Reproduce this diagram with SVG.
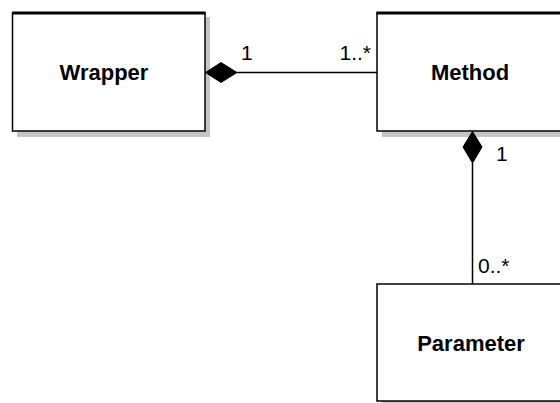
<svg xmlns="http://www.w3.org/2000/svg" width="560" height="403" viewBox="0 0 560 403">
<style>
.shadow{fill:#c4c4c4;}
.box{fill:#fff;stroke:#000;stroke-width:1.5;}
.top{stroke:#000;stroke-width:3;}
.name{font-family:"Liberation Sans",Arial,sans-serif;font-weight:bold;font-size:22px;text-anchor:middle;fill:#000;}
.mult{font-family:"Liberation Sans",Arial,sans-serif;font-size:21px;fill:#000;}
.conn{stroke:#000;stroke-width:1.5;fill:none;}
.dia{fill:#000;stroke:#000;stroke-width:1;}
</style>
<rect width="560" height="403" fill="#fff"/>
<g id="wrapper">
<rect class="shadow" x="17" y="17" width="193" height="120"/>
<rect class="box" x="12.5" y="13" width="192.5" height="118"/>
<line class="top" x1="12" y1="13" x2="205.5" y2="13"/>
<text class="name" x="104" y="80">Wrapper</text>
</g>
<g id="method">
<rect class="shadow" x="382" y="17" width="190" height="120"/>
<rect class="box" x="377" y="13" width="200" height="118"/>
<line class="top" x1="376.5" y1="13" x2="578" y2="13"/>
<text class="name" x="470" y="80">Method</text>
</g>
<g id="parameter">
<rect class="shadow" x="382" y="289" width="190" height="120"/>
<rect class="box" x="377" y="284" width="200" height="117"/>
<text class="name" x="471" y="351">Parameter</text>
</g>
<g id="connectors">
<line class="conn" x1="237" y1="72.5" x2="377" y2="72.5"/>
<polygon class="dia" points="205.5,72.5 221,62.5 237,72.5 221,82.5"/>
<line class="conn" x1="472.5" y1="163" x2="472.5" y2="284"/>
<polygon class="dia" points="472.5,131.5 482,147 472.5,163 463,147"/>
<text class="mult" x="241" y="60">1</text>
<text class="mult" x="371" y="60" text-anchor="end">1..*</text>
<text class="mult" x="496" y="161">1</text>
<text class="mult" x="478" y="273">0..*</text>
</g>
</svg>
